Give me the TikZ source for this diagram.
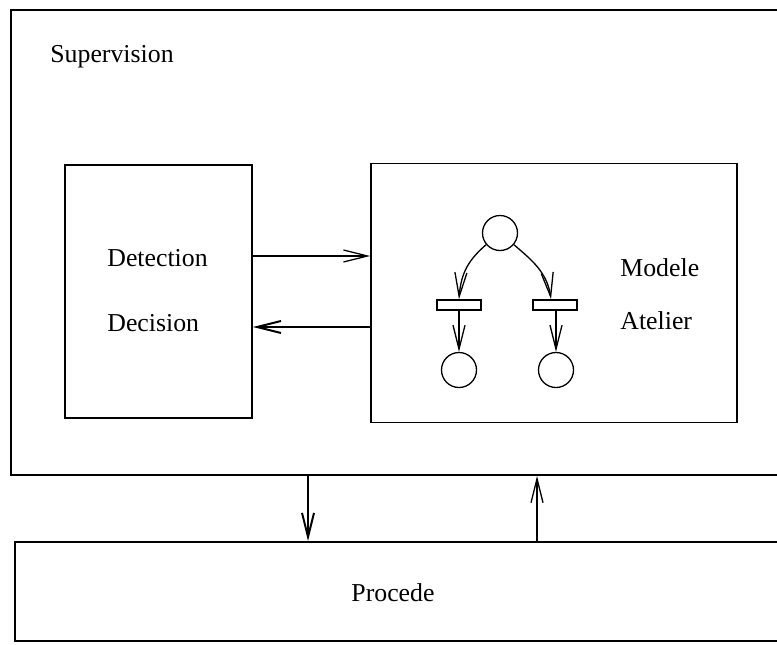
\documentclass[tikz,border=0pt]{standalone}
\usepackage{fontspec}
\setmainfont{Liberation Serif}
\usetikzlibrary{arrows.meta}
\begin{document}
\begin{tikzpicture}[x=0.5pt,y=-0.5pt,
  frame/.style={draw,line width=1pt,rectangle,inner sep=0pt},
  block/.style={draw,line width=0.85pt,rectangle,inner sep=0pt},
  place/.style={draw,line width=0.65pt,circle,minimum size=17.5pt,inner sep=0pt},
  trans/.style={draw,line width=0.8pt,rectangle,minimum width=22pt,minimum height=5pt,inner sep=0pt},
  lbl/.style={font=\fontsize{12.9}{15}\selectfont,inner sep=0pt},
  arr/.style={-{Straight Barb[length=12pt,width=6pt]},line width=0.65pt},
  arrb/.style={-{Straight Barb[length=12pt,width=6pt]},line width=1pt}]
\useasboundingbox (0,0) rectangle (777,644);
\clip (0,0) rectangle (777,644);

% outer frames
\node[frame,minimum width=394.5pt,minimum height=232.5pt] (sup) at (405.5,242.5) {};
\node[frame,minimum width=392.5pt,minimum height=49.5pt] (proc) at (407.5,591.5) {};
\node[lbl,anchor=west] (suplbl) at (50,57) {Supervision};
\node[lbl] (proclbl) at (393,593) {Procede};

% inner blocks
\node[block,minimum width=93.5pt,minimum height=126.5pt] (dd) at (158.5,291.5) {};
\node[block,minimum width=183pt,minimum height=129.5pt] (ma) at (554,293) {};
\node[lbl,anchor=west] (det) at (107,258) {Detection};
\node[lbl,anchor=west] (dec) at (107,323) {Decision};
\node[lbl,anchor=west] (mod) at (620,268) {Modele};
\node[lbl,anchor=west] (ate) at (620,321) {Atelier};

% exchanges between blocks
\draw[arr] (dd.east |- 0,256) -- (ma.west |- 0,256);
\draw[arrb] (ma.west |- 0,327) -- (dd.east |- 0,327);

% exchanges with the process
\draw[arrb] (sup.south -| 308,0) -- (proc.north -| 308,0);
\draw[arr] (proc.north -| 537,0) -- (sup.south -| 537,0);

% Petri net
\node[place] (p0) at (500,233) {};
\node[trans] (t1) at (459,305) {};
\node[trans] (t2) at (555,305) {};
\node[place] (p1) at (459,370) {};
\node[place] (p2) at (556,370) {};
\draw[arr] (p0.220) .. controls +(-16,14) and +(2,-28) .. (t1.north);
\draw[arr] (p0.-40) .. controls +(16,14) and +(-4,-28) .. ([xshift=-2pt]t2.north);
\draw[arr] (t1.south -| p1) -- (p1.north);
\draw[arr] (t2.south -| p2) -- (p2.north);
\end{tikzpicture}
\end{document}
